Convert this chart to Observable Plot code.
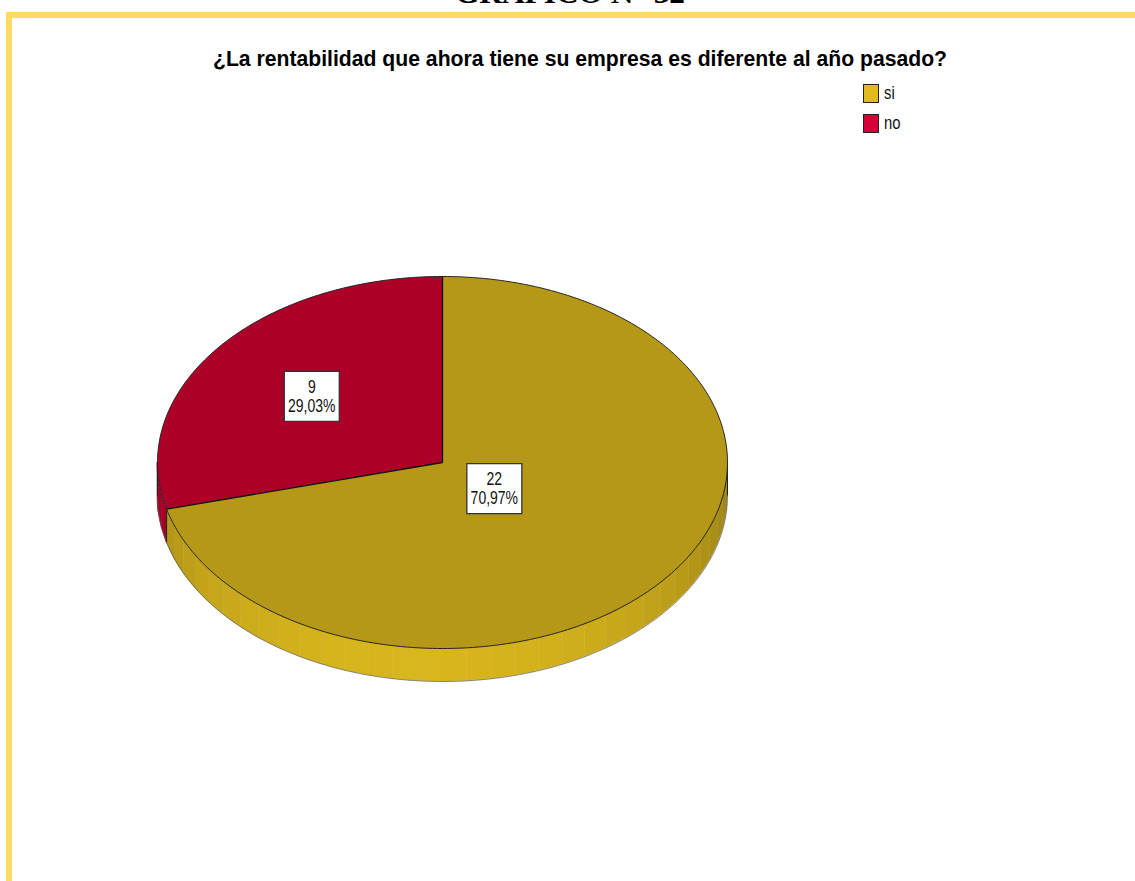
<!DOCTYPE html>
<html>
<head>
<meta charset="utf-8">
<script src="https://cdn.jsdelivr.net/npm/d3@7"></script>
<script src="https://cdn.jsdelivr.net/npm/@observablehq/plot@0.6"></script>
<style>
  html, body { margin: 0; padding: 0; background: #fff; }
  body { width: 1135px; height: 881px; overflow: hidden; position: relative; }
  .abs { position: absolute; white-space: nowrap; }
  #frame { position: absolute; left: 6px; top: 12px; width: 1200px; height: 1000px;
           border-left: 6px solid #FFD966; border-top: 6px solid #FFD966; box-sizing: border-box; }
  #heading { font-family: "Liberation Serif", "Times New Roman", serif; font-weight: bold;
             font-size: 30px; line-height: 30px; top: -22px; left: 455px; transform-origin: left center; color: #000; }
  #title { font-family: "Liberation Sans", Arial, sans-serif;
           font-weight: bold; font-size: 22px; line-height: 22px; top: 48px; left: 213px;
           transform-origin: left center; color: #000; }
  #chart { position: absolute; left: 0; top: 80px; }
  .leg { position: absolute; left: 863px; display: flex; align-items: center;
         font-family: "Liberation Sans", Arial, sans-serif; font-size: 19px; color: #111; }
  .leg span { display: inline-block; transform: scaleX(0.78); transform-origin: left center; }
  .sw { width: 14px; height: 17px; border: 1px solid #222; margin-right: 5px; }
</style>
</head>
<body>
<div id="frame"></div>
<div id="heading" class="abs"></div>
<div id="title" class="abs"></div>
<div id="legend"></div>
<div id="chart"></div>
<script>
// ---------- data ----------
const docHeading = "GRÁFICO N° 32";
const chartTitle = "¿La rentabilidad que ahora tiene su empresa es diferente al año pasado?";
const categories = ["si", "no"];
const counts = [22, 9];
const percentLabels = ["70,97%", "29,03%"];

// ---------- style ----------
const faceColors = ["#B59818", "#AC0028"];
const legendColors = ["#E1BA1E", "#D50037"];
const labelRadius = [0.23, 0.58];
const FONT = '"Liberation Sans", Arial, sans-serif';
const DEPTH = 33 / 186;          // pie thickness in y units
const LIGHT = Math.PI + 0.1;     // light direction (front, slightly left)
const FACET = 5 * Math.PI / 180; // side facet size

// ---------- text ----------
function fitWidth(el, w) {
  const r = el.getBoundingClientRect().width;
  if (r > 0) el.style.transform = `scaleX(${w / r})`;
}
const headingEl = document.getElementById("heading");
headingEl.textContent = docHeading;
const titleEl = document.getElementById("title");
titleEl.textContent = chartTitle;

// legend
const legendEl = document.getElementById("legend");
categories.forEach((c, i) => {
  const row = document.createElement("div");
  row.className = "leg";
  row.style.top = (82 + i * 30) + "px";
  const sw = document.createElement("div");
  sw.className = "sw";
  sw.style.background = legendColors[i];
  const t = document.createElement("span");
  t.textContent = c;
  row.appendChild(sw); row.appendChild(t);
  legendEl.appendChild(row);
});

// ---------- geometry derived from data ----------
const slices = d3.pie().sort(null).value(d => d)(counts)
  .map((s, i) => ({...s, cat: categories[i], color: faceColors[i], i}));

function arcAngles(a0, a1, step = Math.PI / 360) {
  const n = Math.max(2, Math.ceil((a1 - a0) / step));
  return d3.range(n + 1).map(k => a0 + (a1 - a0) * k / n);
}
const P = a => ({x: Math.sin(a), y: -Math.cos(a)});

const faces = slices.map(s => [{x: 0, y: 0}, ...arcAngles(s.startAngle, s.endAngle).map(P), {x: 0, y: 0}]);

const front0 = Math.PI / 2, front1 = 3 * Math.PI / 2;
const strips = [];
let sid = 0;
for (const s of slices) {
  const a0 = Math.max(s.startAngle, front0), a1 = Math.min(s.endAngle, front1);
  if (a1 <= a0) continue;
  const edges = [a0];
  for (let a = front0 + FACET; a < a1 - 1e-9; a += FACET) if (a > a0 + 1e-9) edges.push(a);
  edges.push(a1);
  for (let k = 0; k < edges.length - 1; k++) {
    const b0 = edges[k], b1 = edges[k + 1], mid = (b0 + b1) / 2;
    const f = Math.max(0, Math.cos(mid - LIGHT));
    const base = d3.color(s.color);
    const col = d3.interpolateRgb(base.darker(0.4), base.brighter(0.5))(f);
    for (const a of arcAngles(b0, b1)) {
      strips.push({z: sid, x: Math.sin(a), y1: -Math.cos(a), y2: -Math.cos(a) + DEPTH, fill: col});
    }
    sid++;
  }
}

const sideEdgeAngles = [front0, front1, ...slices.map(s => s.startAngle).filter(a => a > front0 && a < front1)];
const sideEdges = sideEdgeAngles.map(a => ({x: Math.sin(a), y: -Math.cos(a)}));
const outline = arcAngles(0, 2 * Math.PI).map(P);
const bottomEdge = arcAngles(front0, front1).map(a => ({x: Math.sin(a), y: -Math.cos(a) + DEPTH}));

const labels = slices.map(s => {
  const m = (s.startAngle + s.endAngle) / 2, r = labelRadius[s.i];
  return {x: r * Math.sin(m), y: -r * Math.cos(m), text: `${counts[s.i]}\n${percentLabels[s.i]}`};
});

const boxSymbol = {
  draw(ctx) {
    ctx.moveTo(-27.5, -25); ctx.lineTo(27.5, -25); ctx.lineTo(27.5, 25); ctx.lineTo(-27.5, 25); ctx.closePath();
  }
};

const chart = Plot.plot({
  width: 1135,
  height: 801,
  margin: 0,
  x: {domain: [-1, 1], range: [157, 727], axis: null},
  y: {domain: [-1, 1], range: [196, 568], axis: null},
  color: {type: "identity"},
  marks: [
    Plot.area(strips, {x1: "x", y1: "y1", y2: "y2", z: "z", fill: "fill", stroke: "fill", strokeWidth: 0.6}),
    Plot.line(bottomEdge, {x: "x", y: "y", stroke: "#555", strokeWidth: 0.7}),
    Plot.link(sideEdges, {x1: "x", y1: "y", x2: "x", y2: d => d.y + DEPTH, stroke: "#222", strokeWidth: 1}),
    ...faces.map((pts, i) => Plot.line(pts, {x: "x", y: "y", fill: faceColors[i], stroke: "none"})),
    Plot.line(outline, {x: "x", y: "y", stroke: "#222", strokeWidth: 1}),
    Plot.link(slices, {x1: () => 0, y1: () => 0, x2: d => Math.sin(d.startAngle), y2: d => -Math.cos(d.startAngle), stroke: "#111", strokeWidth: 1.3}),
    Plot.dot(labels, {x: "x", y: "y", symbol: boxSymbol, fill: "white", stroke: "#333", strokeWidth: 1.3}),
    Plot.text(labels, {x: "x", y: "y", text: "text", fontSize: 17.5, lineHeight: 1.1, fontFamily: FONT, fill: "#111"})
  ]
});
document.getElementById("chart").appendChild(chart);

// narrow the label glyphs (Arial Narrow look)
chart.querySelectorAll("g[aria-label='text'] text").forEach(t => {
  const tr = t.getAttribute("transform") || "";
  t.setAttribute("transform", tr + " scale(0.8,1)");
});

fitWidth(headingEl, 230);
fitWidth(titleEl, 734);
</script>
</body>
</html>
